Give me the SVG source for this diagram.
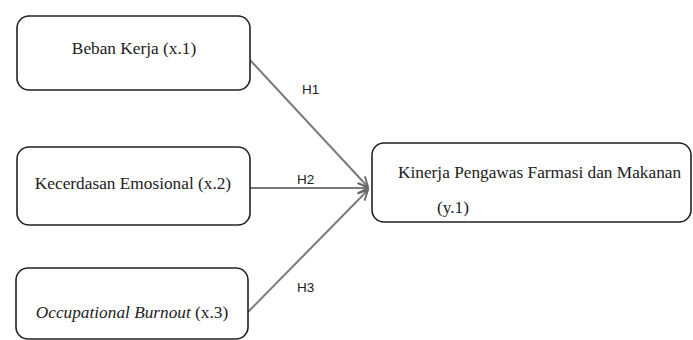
<svg xmlns="http://www.w3.org/2000/svg" width="693" height="340" viewBox="0 0 693 340">
<style>
.box{fill:#fff;stroke:#222;stroke-width:1.6}
.t{font-family:"Liberation Serif","Times New Roman",serif;font-size:17.3px;fill:#222}
.h{font-family:"Liberation Sans",Arial,sans-serif;font-size:13.5px;fill:#222}
.c{stroke:#7a7a7a;stroke-width:2;fill:none;marker-end:url(#ah)}
</style>
<defs>
<marker id="ah" viewBox="0 0 12 12" refX="11" refY="6" markerWidth="12" markerHeight="12" markerUnits="userSpaceOnUse" orient="auto">
<path d="M1,1 L11,6 L1,11" fill="none" stroke="#666" stroke-width="1.8"/>
</marker>
</defs>
<rect width="693" height="340" fill="#fff"/>
<g id="connectors">
<line class="c" x1="250" y1="60" x2="368" y2="187"/>
<line class="c" x1="250" y1="188" x2="368" y2="188"/>
<line class="c" x1="248" y1="312" x2="368" y2="190"/>
<text class="h" x="302" y="94">H1</text>
<text class="h" x="297" y="184">H2</text>
<text class="h" x="297" y="292">H3</text>
</g>
<g id="n1">
<rect class="box" x="17" y="16" width="233" height="74" rx="12"/>
<text class="t" x="134" y="54" text-anchor="middle">Beban Kerja (x.1)</text>
</g>
<g id="n2">
<rect class="box" x="17" y="147" width="233" height="78" rx="12"/>
<text class="t" x="133" y="189" text-anchor="middle">Kecerdasan Emosional (x.2)</text>
</g>
<g id="n3">
<rect class="box" x="16" y="268" width="232" height="71" rx="12"/>
<text class="t" x="132" y="318" text-anchor="middle"><tspan font-style="italic">Occupational Burnout</tspan> (x.3)</text>
</g>
<g id="n4">
<rect class="box" x="372" y="143" width="319" height="79" rx="12"/>
<text class="t" x="398" y="178">Kinerja Pengawas Farmasi dan Makanan</text>
<text class="t" x="437" y="213">(y.1)</text>
</g>
</svg>
